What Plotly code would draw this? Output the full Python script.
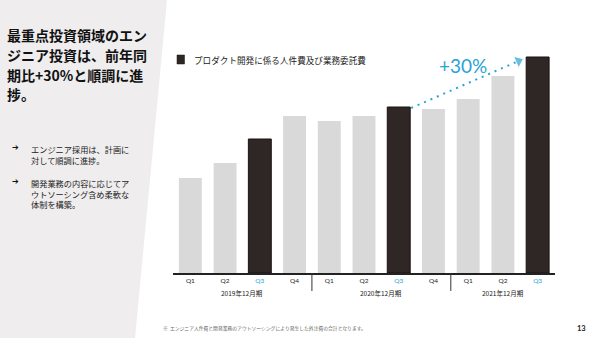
import plotly.graph_objects as go

# ---- data ----
quarters = ["Q1", "Q2", "Q3", "Q4", "Q1", "Q2", "Q3", "Q4", "Q1", "Q2", "Q3"]
values = [95, 110, 134, 157, 152, 157, 166, 164, 174, 197, 216]
highlight = [False, False, True, False, False, False, True, False, False, False, True]
years = ["2019年12月期", "2020年12月期", "2021年12月期"]
year_groups = [(0, 3), (4, 7), (8, 10)]
growth_label = "+30%"

title_lines = ["最重点投資領域のエン", "ジニア投資は、前年同", "期比+30%と順調に進", "捗。"]
bullets = [["エンジニア採用は、計画に", "対して順調に進捗。"],
           ["開発業務の内容に応じてア", "ウトソーシング含め柔軟な", "体制を構築。"]]
legend_text = "プロダクト開発に係る人件費及び業務委託費"
footnote = "※  エンジニア人件費と開発業務のアウトソーシングにより発生した外注費の合計となります。"
page_no = "13"

# ---- style ----
W, H = 600, 338
ML, MR, MT, MB = 173, 45, 40, 65
PW, PH = W - ML - MR, H - MT - MB
DARK = "#2f2725"
LIGHT = "#d9d9d9"
BLUE = "#2aa3d5"
JP = "Noto Sans CJK JP"

def px(x):
    return (x - ML) / PW

def py(y):
    return (H - MB - y) / PH

x_idx = list(range(len(values)))
colors = [DARK if h else LIGHT for h in highlight]
lw = [1 if h else 0 for h in highlight]
ticktext = [f'<span style="color:{BLUE}">{q}</span>' if h else q
            for q, h in zip(quarters, highlight)]

fig = go.Figure()
fig.add_trace(go.Bar(
    x=x_idx, y=values, width=0.66,
    marker=dict(color=colors, line=dict(color="#1a1311", width=lw)),
    hoverinfo="skip", showlegend=False,
))

# growth arrow: from last-year Q3 to this-year Q3
hi = [i for i, h in enumerate(highlight) if h]
i0, i1 = hi[-2], hi[-1]
fig.add_trace(go.Scatter(
    x=[i0 + 0.36, i1 - 0.55], y=[values[i0] - 1, values[i1] - 4],
    mode="lines+markers",
    line=dict(color=BLUE, width=2, dash="2px,5px"),
    marker=dict(symbol=["circle", "triangle-up"], size=[0, 11], color=BLUE,
                angleref="previous"),
    hoverinfo="skip", showlegend=False,
))

annotations = []
# +30% label
annotations.append(dict(x=i0 + 1.85, y=values[i1] - 8, xref="x", yref="y",
                        text=growth_label, showarrow=False,
                        font=dict(family="Lato", size=19, color=BLUE),
                        xanchor="center", yanchor="middle"))

# year labels
for yl, (a, b) in zip(years, year_groups):
    annotations.append(dict(x=(a + b) / 2, y=py(293), xref="x", yref="paper",
                            text=yl, showarrow=False,
                            font=dict(family=JP, size=6.5, color="#222"),
                            xanchor="center", yanchor="middle"))

# title
for k, line in enumerate(title_lines):
    annotations.append(dict(x=px(5), y=py(35 + 19.8 * k), xref="paper", yref="paper",
                            text=f"<b>{line}</b>", showarrow=False,
                            font=dict(family=JP, size=14, color="#111"),
                            xanchor="left", yanchor="middle"))

# bullets
first_y = [147, 181]
for blines, y0 in zip(bullets, first_y):
    annotations.append(dict(x=px(10), y=py(y0), xref="paper", yref="paper",
                            text="➔", showarrow=False,
                            font=dict(family="DejaVu Sans", size=8, color="#111"),
                            xanchor="left", yanchor="middle"))
    annotations.append(dict(x=px(29), y=py(y0 - 6), xref="paper", yref="paper",
                            text="<br>".join(blines), showarrow=False, align="left",
                            font=dict(family=JP, size=8.2, color="#222"),
                            xanchor="left", yanchor="top"))

# legend
annotations.append(dict(x=px(192), y=py(59.5), xref="paper", yref="paper",
                        text=legend_text, showarrow=False,
                        font=dict(family=JP, size=8.6, color="#222"),
                        xanchor="left", yanchor="middle"))
# footnote & page number
annotations.append(dict(x=px(161), y=py(328), xref="paper", yref="paper",
                        text=footnote, showarrow=False,
                        font=dict(family=JP, size=4.8, color="#666"),
                        xanchor="left", yanchor="middle"))
annotations.append(dict(x=px(588), y=py(328), xref="paper", yref="paper",
                        text=f"<b>{page_no}</b>", showarrow=False,
                        font=dict(family="Lato", size=7.5, color="#222"),
                        xanchor="right", yanchor="middle"))

shapes = [
    # left grey panel
    dict(type="path", xref="paper", yref="paper", layer="below",
         path=f"M {px(0)} {py(0)} L {px(167)} {py(0)} L {px(135)} {py(338)} L {px(0)} {py(338)} Z",
         fillcolor="#efeded", line=dict(width=0)),
    # legend square
    dict(type="rect", xref="paper", yref="paper",
         x0=px(177), x1=px(184.5), y0=py(55), y1=py(64),
         fillcolor=DARK, line=dict(color="#1a1311", width=0.5)),
]
# year separators
for (a, b) in year_groups[:-1]:
    shapes.append(dict(type="line", xref="x", yref="paper", x0=b + 0.5, x1=b + 0.5,
                       y0=py(273), y1=py(291), line=dict(color="#333", width=1)))

fig.update_layout(
    width=W, height=H,
    margin=dict(l=ML, r=MR, t=MT, b=MB),
    paper_bgcolor="white", plot_bgcolor="white",
    showlegend=False,
    annotations=annotations, shapes=shapes,
    xaxis=dict(range=[-0.5, len(values) - 0.5], tickmode="array", tickvals=x_idx,
               ticktext=ticktext, showgrid=False, zeroline=False,
               showline=True, linecolor="#222", linewidth=1.5, ticks="",
               tickfont=dict(family="Lato", size=6.5, color="#222"), fixedrange=True),
    yaxis=dict(range=[0, PH], visible=False, fixedrange=True),
)

fig.write_html("out.html")
